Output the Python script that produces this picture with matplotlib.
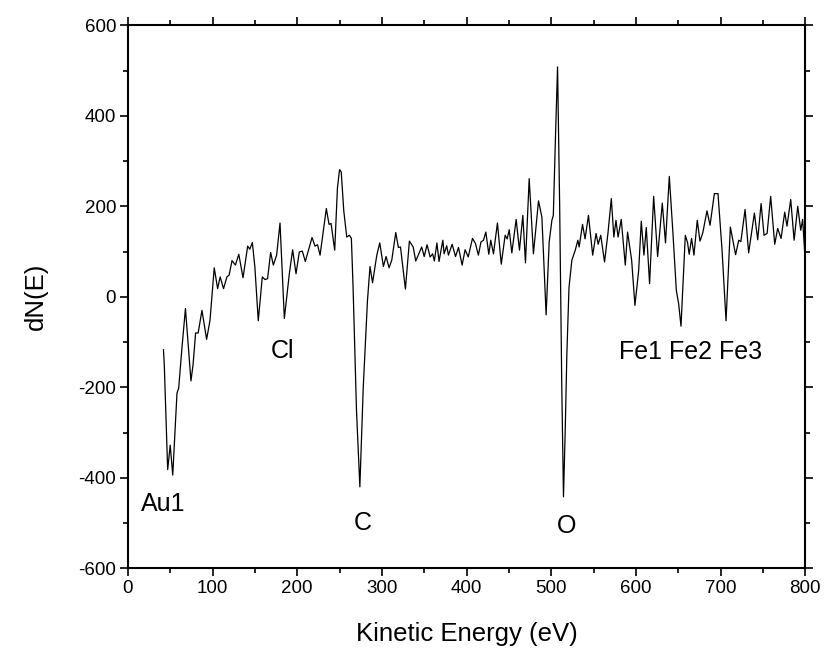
import matplotlib
matplotlib.use("Agg")
import matplotlib.pyplot as plt
from matplotlib.ticker import MultipleLocator

plt.rcParams['font.family'] = ['Liberation Sans', 'DejaVu Sans']
plt.rcParams['axes.unicode_minus'] = False

energy = [42, 43, 47, 50, 53, 58, 60, 64, 68, 71, 74.5, 77, 80, 83, 87.5, 93, 97, 102, 106, 109, 113, 117,
          119.6, 123, 127, 131, 136, 141.5, 144, 147, 150, 154, 158.8, 162, 165, 168.6, 171.8, 175.7, 179.7,
          184.8, 190.7, 194.6, 198.6, 202.5, 206, 209.6, 217.5, 221, 224, 227, 234.4, 237.6, 240, 244.3, 247.5,
          250, 252, 255, 258.5, 261.6, 264, 266, 270, 274, 278, 283, 286, 289, 294, 297.5, 301.8, 305, 308.5, 311.7,
          316.4, 319.5, 322, 327.8, 332.5, 337, 340, 347, 350, 353.4, 357, 360, 362, 365, 367.5, 372, 373.5,
          376.6, 378.6, 383, 387, 390.5, 394.8, 398.3, 402, 407, 410.5, 414, 417, 420, 422.8, 426.3, 428.6,
          431.8, 436.5, 441, 445.6, 448, 450.4, 453.5, 458.6, 462.5, 466.5, 469.6, 474, 479, 485, 489, 494,
          497.6, 500.8, 502.5, 505, 507.5, 510, 512.5, 514.5, 516.5, 518.5, 521, 524.4, 528.4, 531.5, 533, 537,
          540, 544, 549, 553, 555.5, 558.5, 563, 567, 571, 574, 576.5, 579, 582.7, 587.5, 590.2, 595, 598.9,
          603.3, 606.4, 609.5, 612.3, 616.2, 621, 625.7, 631.2, 635, 639.5, 643.8, 647.8, 650.5, 653.3, 658.4,
          661, 663, 665.8, 668.6, 672.5, 675.7, 679, 684, 687.6, 692.7, 697, 701.8, 706.5, 711.6, 717.8, 721.5,
          724, 729, 733.2, 740, 743.9, 747.9, 751.4, 755, 759.2, 764, 767.5, 771.5, 775.8, 778.5, 782.9, 786.9,
          791.2, 794.7, 797, 799.5, 800]
dNE = [-117, -150, -382, -328, -394, -213, -202, -110, -26, -100, -186, -150, -80, -80, -30, -94, -52, 64, 18, 44,
       18, 44, 48, 80, 70, 94, 42, 112, 105, 120, 66, -53, 44, 38, 40, 98, 70, 92, 163, -48, 51, 104, 51, 99, 101,
       78, 131, 112, 115, 92, 195, 160, 162, 103, 240, 281, 276, 190, 132, 136, 129, 20, -250, -420, -200, -8, 67, 31,
       92, 119, 67, 89, 64, 81, 142, 109, 110, 17, 123, 110, 79, 110, 89, 115, 88, 95, 79, 119, 78, 125, 95,
       113, 92, 116, 89, 109, 70, 104, 88, 129, 118, 92, 121, 125, 143, 94, 125, 95, 163, 72, 136, 128, 148, 97,
       171, 103, 180, 75, 261, 95, 212, 176, -40, 121, 169, 180, 350, 508, 200, -200, -442, -300, -126, 20, 81,
       103, 125, 110, 160, 128, 180, 92, 140, 116, 136, 77, 140, 217, 132, 169, 132, 171, 70, 143, 81, -19,
       58, 167, 92, 153, 29, 222, 89, 207, 119, 266, 140, 14, -15, -65, 136, 120, 94, 129, 92, 169, 123, 141,
       190, 158, 228, 228, 103, -53, 154, 93, 125, 122, 193, 97, 185, 126, 206, 136, 140, 222, 116, 151, 129,
       187, 156, 215, 125, 200, 147, 171, 95, 5]

labels = ["Au1", "Cl", "C", "O", "Fe1 Fe2 Fe3"]
label_x = [42, 183, 278, 518, 665]
label_y = [-458, -120, -500, -507, -123]

fig = plt.figure(figsize=(8.25, 6.48), dpi=100)
ax = fig.add_axes([0.155, 0.123, 0.821, 0.838])
ax.plot(energy, dNE, color='black', linewidth=0.9)

for t, x, y in zip(labels, label_x, label_y):
    ax.text(x, y, t, ha='center', va='center', fontsize=18)

ax.set_xlim(0, 800)
ax.set_ylim(-600, 600)
ax.xaxis.set_major_locator(MultipleLocator(100))
ax.xaxis.set_minor_locator(MultipleLocator(50))
ax.yaxis.set_major_locator(MultipleLocator(200))
ax.yaxis.set_minor_locator(MultipleLocator(100))
ax.tick_params(which='both', direction='out', top=True, right=True, labelsize=13.5, width=1.2)
ax.tick_params(which='major', length=6, pad=2.5)
ax.tick_params(which='minor', length=3.5)
for s in ax.spines.values():
    s.set_linewidth(1.5)
ax.set_xlabel("Kinetic Energy (eV)", fontsize=18.5, labelpad=18)
ax.set_ylabel("dN(E)", fontsize=18.5, labelpad=22)

fig.savefig("out.png", dpi=100)
